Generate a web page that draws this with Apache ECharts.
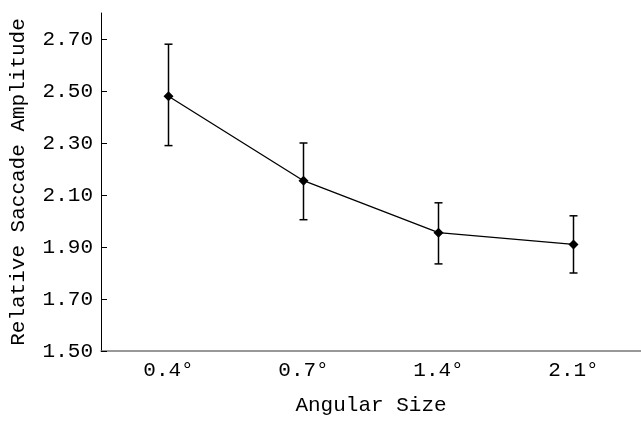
<!DOCTYPE html>
<html><head><meta charset="utf-8">
<script src="https://cdn.jsdelivr.net/npm/echarts@6/dist/echarts.min.js"></script>
<style>html,body{margin:0;padding:0;background:#fff}#c{width:641px;height:421px}</style>
</head><body><div id="c"></div>
<script>
const categories = ['0.4°', '0.7°', '1.4°', '2.1°'];
const means = [2.48, 2.155, 1.955, 1.91];
const upper = [2.68, 2.30, 2.07, 2.02];
const lower = [2.29, 2.005, 1.835, 1.80];
const yTicks = [1.5, 1.7, 1.9, 2.1, 2.3, 2.5, 2.7];

const FONT = 'Liberation Mono';
const chart = echarts.init(document.getElementById('c'), null, {renderer: 'canvas'});
chart.setOption({
  animation: false,
  backgroundColor: '#fff',
  grid: {left: 100, right: -3, top: 13, bottom: 64, containLabel: false},
  xAxis: {
    type: 'category',
    data: categories,
    boundaryGap: true,
    name: 'Angular Size',
    nameLocation: 'middle',
    nameGap: 44,
    nameTextStyle: {fontFamily: FONT, fontSize: 21, color: '#000'},
    axisLine: {lineStyle: {color: '#777', width: 1.5}},
    axisTick: {inside: true, length: 6, lineStyle: {color: '#000', width: 1}},
    axisLabel: {margin: 9, fontFamily: FONT, fontSize: 21, color: '#000'},
    splitLine: {show: false}
  },
  yAxis: {
    type: 'value',
    min: 1.5, max: 2.8, interval: 0.2,
    name: 'Relative Saccade Amplitude',
    nameLocation: 'middle',
    nameGap: 72,
    nameTextStyle: {fontFamily: FONT, fontSize: 21, color: '#000'},
    axisLine: {show: true, lineStyle: {color: '#000', width: 1}},
    axisTick: {show: true, inside: true, length: 6, customValues: yTicks, lineStyle: {color: '#000'}},
    axisLabel: {margin: 8, fontFamily: FONT, fontSize: 21, color: '#000', customValues: yTicks,
      formatter: v => v.toFixed(2)},
    splitLine: {show: false}
  },
  series: [
    {
      type: 'custom',
      data: categories.map((c, i) => [i, upper[i], lower[i]]),
      renderItem: function (params, api) {
        const x = api.value(0);
        const hi = api.coord([x, api.value(1)]);
        const lo = api.coord([x, api.value(2)]);
        const w = 4;
        const st = {stroke: '#000', lineWidth: 1.5};
        return {type: 'group', children: [
          {type: 'line', shape: {x1: hi[0], y1: hi[1], x2: lo[0], y2: lo[1]}, style: st},
          {type: 'line', shape: {x1: hi[0] - w, y1: hi[1], x2: hi[0] + w, y2: hi[1]}, style: st},
          {type: 'line', shape: {x1: lo[0] - w, y1: lo[1], x2: lo[0] + w, y2: lo[1]}, style: st}
        ]};
      },
      z: 2
    },
    {
      type: 'line',
      data: means,
      symbol: 'diamond',
      symbolSize: 10,
      lineStyle: {color: '#000', width: 1.3},
      itemStyle: {color: '#000'},
      z: 3
    }
  ]
});
</script></body></html>
